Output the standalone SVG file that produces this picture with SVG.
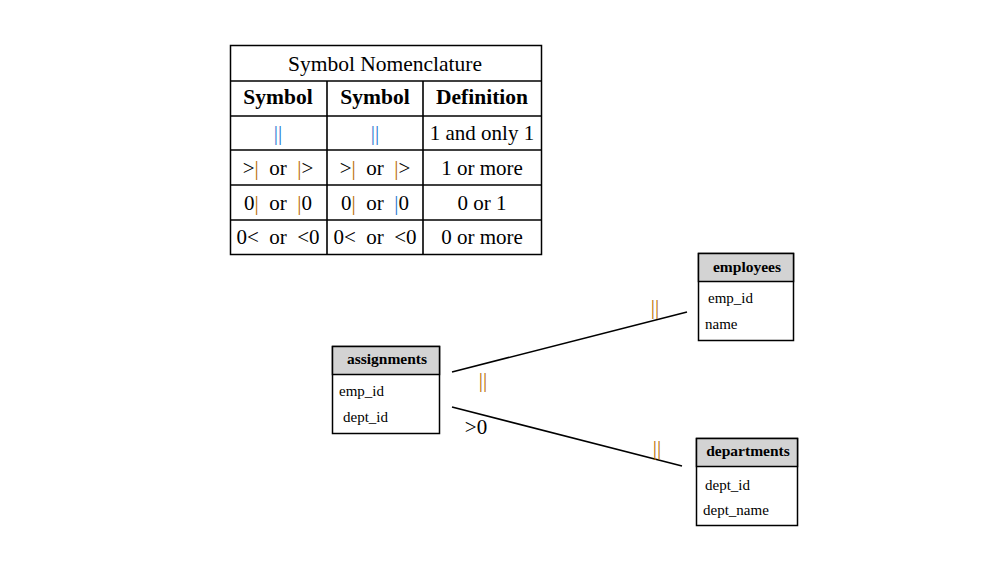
<svg xmlns="http://www.w3.org/2000/svg" width="1000" height="580" viewBox="0 0 1000 580">
<style>
text{font-family:"Liberation Serif","Times New Roman",serif;fill:#000}
.t{font-size:21.5px}
.h{font-size:21.5px;font-weight:bold}
.c{font-size:21px;text-anchor:middle}
.bl{fill:#1f74d0}
.or{fill:#b86a00}
.nh{font-size:15.5px;font-weight:bold;text-anchor:middle}
.f{font-size:15px}
.cell{fill:#fff;stroke:#000;stroke-width:1.5}
.hdr{fill:#d3d3d3;stroke:#000;stroke-width:1.5}
.ln{stroke:#000;stroke-width:1.6;fill:none}
.lbl{font-size:21px}
</style>
<rect width="1000" height="580" fill="#fff"/>
<g id="legend">
<rect class="cell" x="230.5" y="45.5" width="311" height="209"/>
<line class="ln" x1="230.5" y1="81" x2="541.5" y2="81"/>
<line class="ln" x1="230.5" y1="116" x2="541.5" y2="116"/>
<line class="ln" x1="230.5" y1="150" x2="541.5" y2="150"/>
<line class="ln" x1="230.5" y1="185" x2="541.5" y2="185"/>
<line class="ln" x1="230.5" y1="220" x2="541.5" y2="220"/>
<line class="ln" x1="327" y1="81" x2="327" y2="254.5"/>
<line class="ln" x1="423" y1="81" x2="423" y2="254.5"/>
<text class="t" x="385" y="71" text-anchor="middle">Symbol Nomenclature</text>
<text class="h" x="278" y="104" text-anchor="middle">Symbol</text>
<text class="h" x="375" y="104" text-anchor="middle">Symbol</text>
<text class="h" x="482" y="104" text-anchor="middle">Definition</text>
<text class="c bl" x="278" y="140">||</text>
<text class="c bl" x="375" y="140">||</text>
<text class="c" x="482" y="140">1 and only 1</text>
<text class="c" x="278" y="175" xml:space="preserve">&gt;<tspan class="or">|</tspan>  or  <tspan class="or">|</tspan>&gt;</text>
<text class="c" x="375" y="175" xml:space="preserve">&gt;<tspan class="or">|</tspan>  or  <tspan class="or">|</tspan>&gt;</text>
<text class="c" x="482" y="175">1 or more</text>
<text class="c" x="278" y="210" xml:space="preserve">0<tspan class="or">|</tspan>  or  <tspan class="or">|</tspan>0</text>
<text class="c" x="375" y="210" xml:space="preserve">0<tspan class="or">|</tspan>  or  <tspan class="bl">|</tspan>0</text>
<text class="c" x="482" y="210">0 or 1</text>
<text class="c" x="278" y="244" xml:space="preserve">0&lt;  or  &lt;0</text>
<text class="c" x="375" y="244" xml:space="preserve">0&lt;  or  &lt;0</text>
<text class="c" x="482" y="244">0 or more</text>
</g>
<g id="connectors">
<line class="ln" x1="452" y1="372" x2="687" y2="312"/>
<line class="ln" x1="452" y1="407" x2="682" y2="466"/>
<text class="lbl or" x="483" y="387" text-anchor="middle">||</text>
<text class="lbl or" x="655" y="314" text-anchor="middle">||</text>
<text class="lbl" x="476" y="434" text-anchor="middle">&gt;0</text>
<text class="lbl or" x="657" y="455" text-anchor="middle">||</text>
</g>
<g id="employees">
<rect class="cell" x="698.5" y="253.5" width="95" height="87"/>
<rect class="hdr" x="698.5" y="253.5" width="95" height="28"/>
<text class="nh" x="747" y="272">employees</text>
<text class="f" x="708" y="303">emp_id</text>
<text class="f" x="705" y="329">name</text>
</g>
<g id="assignments">
<rect class="cell" x="332.5" y="346.5" width="107" height="87"/>
<rect class="hdr" x="332.5" y="346.5" width="107" height="28"/>
<text class="nh" x="387" y="364">assignments</text>
<text class="f" x="339" y="396">emp_id</text>
<text class="f" x="343" y="422">dept_id</text>
</g>
<g id="departments">
<rect class="cell" x="696.5" y="438.5" width="101" height="87"/>
<rect class="hdr" x="696.5" y="438.5" width="101" height="28"/>
<text class="nh" x="748" y="456">departments</text>
<text class="f" x="705" y="490">dept_id</text>
<text class="f" x="703" y="515">dept_name</text>
</g>
</svg>
